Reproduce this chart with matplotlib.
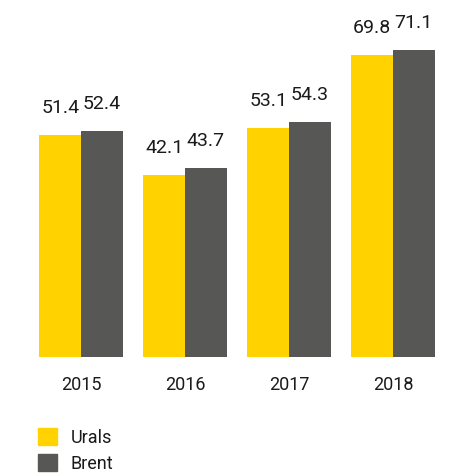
import numpy as np
import matplotlib.pyplot as plt
from matplotlib.patches import Patch

plt.rcParams['font.family'] = ['Roboto', 'DejaVu Sans']

years = ['2015', '2016', '2017', '2018']
urals = [51.4, 42.1, 53.1, 69.8]
brent = [52.4, 43.7, 54.3, 71.1]

yellow = '#FFD200'
grey = '#575756'
txt = '#1a1a1a'

fig = plt.figure(figsize=(4.71, 4.75), dpi=100)
ax = fig.add_axes([29/471, 118/475, 416/471, 345.6/475])

x = np.arange(len(years))
w = 0.4
b1 = ax.bar(x - w/2, urals, w, color=yellow)
b2 = ax.bar(x + w/2, brent, w, color=grey)

for bars, vals in ((b1, urals), (b2, brent)):
    for r, v in zip(bars, vals):
        ax.annotate(f'{v:.1f}', (r.get_x() + r.get_width()/2, v),
                    xytext=(0, 13), textcoords='offset points',
                    ha='center', va='bottom', fontsize=14, color=txt)

ax.set_xlim(-0.5, 3.5)
ax.set_ylim(0, 80)
ax.set_xticks(x)
ax.set_xticklabels(years, fontsize=13, color=txt)
ax.tick_params(axis='x', length=0, pad=14)
ax.set_yticks([])
for s in ax.spines.values():
    s.set_visible(False)

handles = [Patch(color=yellow, label='Urals'), Patch(color=grey, label='Brent')]
fig.legend(handles=handles, loc='lower left', bbox_to_anchor=(31/471, -5/475),
           frameon=False, fontsize=13, handlelength=1.05, handleheight=1.05,
           handletextpad=0.75, labelspacing=0.4, borderaxespad=0, labelcolor=txt)

fig.savefig('out.png', dpi=100)
